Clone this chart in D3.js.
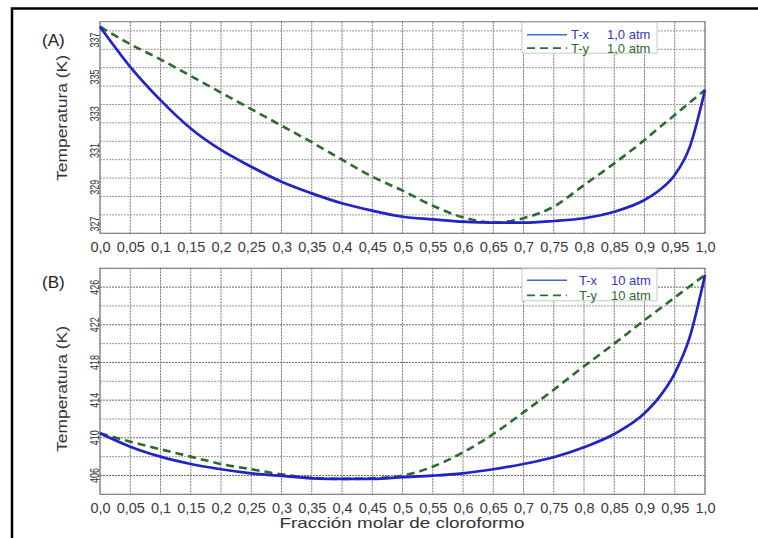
<!DOCTYPE html>
<html><head><meta charset="utf-8">
<script src="https://cdn.jsdelivr.net/npm/d3@7"></script>
<style>
html,body{margin:0;padding:0;background:#fff;}
svg{display:block;font-family:"Liberation Sans",Arial,sans-serif;}
</style></head>
<body>
<svg id="c" width="758" height="538"></svg>
<script>
// Fracción molar de cloroformo
const xFrac = [0,0.05,0.1,0.15,0.2,0.25,0.3,0.35,0.4,0.45,0.5,0.55,0.6,0.65,0.7,0.75,0.8,0.85,0.9,0.925,0.95,0.975,1.0];
// (A) 1,0 atm
const tx1 = [337.73,335.55,333.74,332.2,331.03,330.12,329.3,328.67,328.13,327.73,327.4,327.26,327.13,327.08,327.08,327.17,327.32,327.67,328.31,328.85,329.67,331.21,334.29];
const ty1 = [337.73,336.78,335.95,335.05,334.15,333.25,332.35,331.45,330.5,329.58,328.82,328.0,327.37,327.08,327.32,327.95,329.12,330.3,331.57,332.26,332.93,333.62,334.29];
// (B) 10 atm
const tx10 = [410.48,409.06,408.0,407.22,406.66,406.23,405.95,405.7,405.63,405.63,405.81,405.98,406.23,406.66,407.22,407.93,408.99,410.4,412.6,414.37,416.85,420.74,427.29];
const ty10 = [410.48,409.59,408.78,408.0,407.22,406.66,406.12,405.75,405.63,405.7,405.98,406.93,408.45,410.4,412.7,415.1,417.6,420.0,422.5,423.7,424.9,426.1,427.29];

const xTicks = [0,0.05,0.1,0.15,0.2,0.25,0.3,0.35,0.4,0.45,0.5,0.55,0.6,0.65,0.7,0.75,0.8,0.85,0.9,0.95,1.0];
const xTickLabels = ["0,0","0,05","0,1","0,15","0,2","0,25","0,3","0,35","0,4","0,45","0,5","0,55","0,6","0,65","0,7","0,75","0,8","0,85","0,9","0,95","1,0"];
const yTicksA = [327,329,331,333,335,337];
const yTicksB = [406,410,414,418,422,426];
const legendA = ["T-x","1,0 atm","T-y","1,0 atm"];
const legendB = ["T-x","10 atm","T-y","10 atm"];

const svg = d3.select("#c");
// outer frame (top + left visible)
svg.append("rect").attr("x",12).attr("y",8.5).attr("width",800).attr("height",600)
  .attr("fill","none").attr("stroke","#000").attr("stroke-width",2.5);

const BLUE = "#2222c8", GREEN = "#2d6a2d";

function panel(cfg){
  const x = d3.scaleLinear().domain([0,1]).range([100,705]);
  const y = d3.scaleLinear().domain(cfg.ydom).range([cfg.bottom,cfg.top]);
  const g = svg.append("g");
  // grid
  const gridY = d3.range(cfg.ydom[0], cfg.ydom[1]+0.001, cfg.gstep);
  g.selectAll(".gy").data(gridY).join("line")
    .attr("x1",100).attr("x2",705).attr("y1",d=>y(d)).attr("y2",d=>y(d))
    .attr("stroke",d=>cfg.ticks.includes(d)?"#666":"#999").attr("stroke-width",1)
    .attr("stroke-dasharray","2,1");
  g.selectAll(".gx").data(xTicks).join("line")
    .attr("x1",d=>x(d)).attr("x2",d=>x(d)).attr("y1",cfg.top).attr("y2",cfg.bottom)
    .attr("stroke","#777").attr("stroke-width",1).attr("stroke-dasharray","2,1");
  g.append("rect").attr("x",100).attr("y",cfg.top).attr("width",605).attr("height",cfg.bottom-cfg.top)
    .attr("fill","none").attr("stroke","#777").attr("stroke-width",1);
  // x tick labels via axis
  const xa = d3.axisBottom(x).tickValues(xTicks).tickSize(0).tickPadding(0)
    .tickFormat((d,i)=>xTickLabels[i]);
  const xg = g.append("g").attr("transform",`translate(0,${cfg.bottom})`).call(xa);
  xg.select(".domain").remove();
  xg.selectAll("text").attr("y",0).attr("dy",0).attr("transform","translate(0,18.5)")
    .attr("font-size",14.5).attr("fill","#3a3a3a").attr("font-family","Liberation Sans, Arial, sans-serif");
  // y tick labels (rotated, condensed)
  g.selectAll(".yl").data(cfg.ticks).join("text")
    .attr("transform",d=>`translate(98.5,${y(d)}) rotate(-90)`)
    .attr("text-anchor","middle").attr("font-size",13.5).attr("fill","#333")
    .attr("textLength",15).attr("lengthAdjust","spacingAndGlyphs")
    .text(d=>d);
  // y title
  g.append("text").attr("transform",`translate(67,${cfg.ytitleY}) rotate(-90)`)
    .attr("text-anchor","middle").attr("font-size",14).attr("fill","#333")
    .attr("textLength",126).attr("lengthAdjust","spacingAndGlyphs")
    .text("Temperatura (K)");
  // panel letter
  g.append("text").attr("x",42).attr("y",cfg.letterY).attr("font-size",17).attr("fill","#222")
    .text(cfg.letter);
  // curves
  const data = xFrac.map((v,i)=>({x:v,a:cfg.tx[i],b:cfg.ty[i]}));
  const lx = d3.line().x(d=>x(d.x)).y(d=>y(d.a)).curve(d3.curveMonotoneX);
  const ly = d3.line().x(d=>x(d.x)).y(d=>y(d.b)).curve(d3.curveMonotoneX);
  g.append("path").attr("d",ly(data)).attr("fill","none").attr("stroke",GREEN)
    .attr("stroke-width",2.6).attr("stroke-dasharray","8,5");
  g.append("path").attr("d",lx(data)).attr("fill","none").attr("stroke",BLUE)
    .attr("stroke-width",2.7);
  // legend
  const L = cfg.legend;
  const lg = g.append("g");
  lg.append("rect").attr("x",522).attr("y",cfg.top+0.5).attr("width",135).attr("height",cfg.legH)
    .attr("fill","#fff").attr("stroke","#c8c8c8").attr("stroke-width",1);
  const r1 = cfg.top+cfg.r1, r2 = cfg.top+cfg.r2;
  lg.append("line").attr("x1",527).attr("x2",567).attr("y1",r1).attr("y2",r1)
    .attr("stroke","#3a6ad0").attr("stroke-width",1.5);
  lg.append("line").attr("x1",527).attr("x2",567).attr("y1",r2).attr("y2",r2)
    .attr("stroke",GREEN).attr("stroke-width",1.8).attr("stroke-dasharray","8,5");
  lg.append("text").attr("x",cfg.lx1).attr("y",r1+4.5).attr("font-size",13).attr("fill","#3535c0").text(L[0]);
  lg.append("text").attr("x",cfg.lx2).attr("y",r1+4.5).attr("font-size",13).attr("fill","#3535c0").text(L[1]);
  lg.append("text").attr("x",cfg.lx1).attr("y",r2+4.5).attr("font-size",13).attr("fill",GREEN).text(L[2]);
  lg.append("text").attr("x",cfg.lx2).attr("y",r2+4.5).attr("font-size",13).attr("fill",GREEN).text(L[3]);
}

panel({ydom:[326.5,338], top:21.7, bottom:233.3, gstep:1, ticks:yTicksA, tx:tx1, ty:ty1,
  ytitleY:118, letter:"(A)", letterY:46, legend:legendA, legH:31, r1:13, r2:26.5, lx1:571, lx2:607});
panel({ydom:[404,428], top:268.3, bottom:494.3, gstep:2, ticks:yTicksB, tx:tx10, ty:ty10,
  ytitleY:389, letter:"(B)", letterY:288, legend:legendB, legH:32, r1:12, r2:27, lx1:579, lx2:611});

svg.append("text").attr("x",402).attr("y",528).attr("text-anchor","middle")
  .attr("font-size",14.5).attr("fill","#333").attr("textLength",245).attr("lengthAdjust","spacingAndGlyphs")
  .text("Fracción molar de cloroformo");
</script>
</body></html>
